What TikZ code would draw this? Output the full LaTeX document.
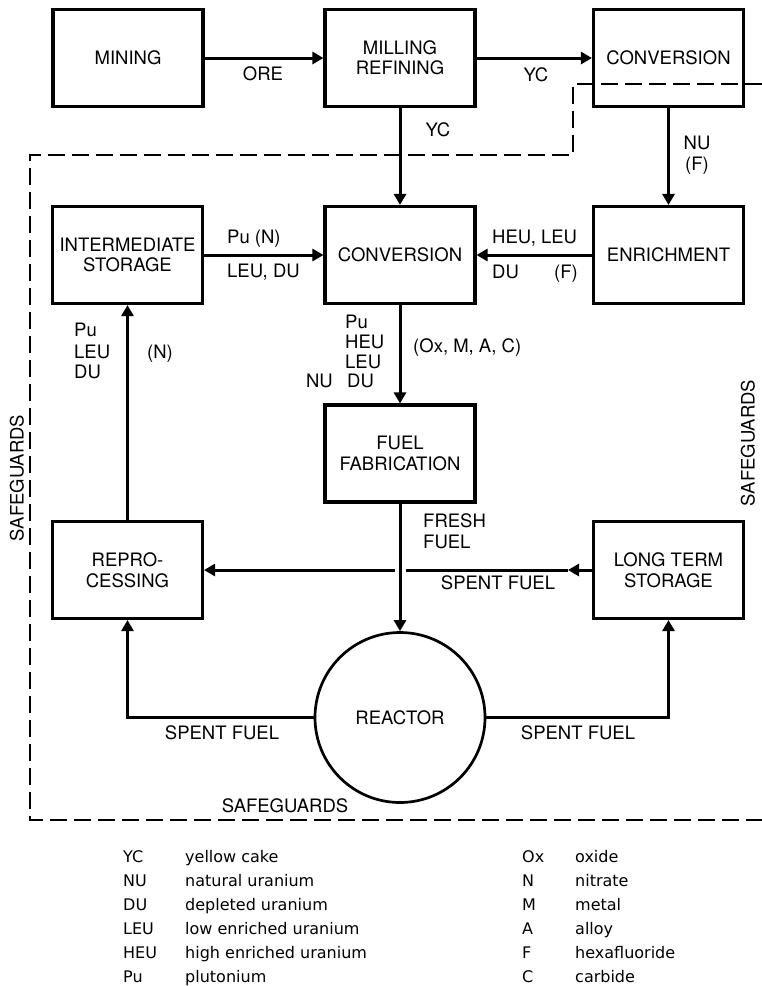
\documentclass[tikz,border=0pt]{standalone}
\usepackage{fontspec}
\setmainfont{TeX Gyre Heros}
\newfontfamily\legfont{DejaVu Sans}
\usetikzlibrary{arrows.meta}
\begin{document}
\begin{tikzpicture}[x=1pt,y=-1pt,
  box/.style={draw,line width=3.1pt,minimum width=150pt,minimum height=97pt,align=center,inner sep=0pt,font=\fontsize{18.5}{20.5}\selectfont},
  lbl/.style={inner sep=0pt,font=\fontsize{18.5}{20.5}\selectfont},
  lblf/.style={lbl,text height=13.5pt,text depth=0pt},
  flow/.style={line width=3pt,-{Triangle[length=11pt,width=12pt]}},
  plain/.style={line width=3pt},
  guard/.style={line width=2.8pt,dash pattern=on 17pt off 7pt},
  leg/.style={inner sep=0pt,anchor=west,text height=11.5pt,text depth=0pt,font=\legfont\fontsize{16}{19}\selectfont}]
\useasboundingbox (0,0) rectangle (762,986);

% boxes
\node[box] (mining) at (128,58) {MINING};
\node[box] (milling) at (400,58) {MILLING\\REFINING};
\node[box] (conv1) at (668.5,58) {CONVERSION};
\node[box] (istor) at (127.5,255) {INTERMEDIATE\\STORAGE};
\node[box] (conv2) at (400,255) {CONVERSION};
\node[box] (enrich) at (668.5,255) {ENRICHMENT};
\node[box] (fab) at (400,453.5) {FUEL\\FABRICATION};
\node[box] (repro) at (127.5,570) {REPRO-\\CESSING};
\node[box] (lts) at (668.5,570) {LONG TERM\\STORAGE};
\node[draw,circle,line width=2.7pt,minimum size=170pt,inner sep=0pt,font=\fontsize{18.5}{20.5}\selectfont] (reactor) at (400,717.5) {REACTOR};

% safeguards boundary
\draw[guard] (762,84) -- (573,84) -- (573,155) -- (30,155) -- (30,820) -- (762,820);

% connectors
\draw[flow] (mining) -- (milling);
\draw[flow] (milling) -- (conv1);
\draw[flow] (milling) -- (conv2);
\draw[flow] (conv1) -- (enrich);
\draw[flow] (istor) -- (conv2);
\draw[flow] (enrich) -- (conv2);
\draw[flow] (conv2) -- (fab);
\draw[flow] (fab) -- (reactor);
\draw[flow] (repro) -- (istor);
\draw[flow] (reactor.west) -| (repro.south);
\draw[flow] (reactor.east) -| (lts.south);
\coordinate (sftip) at (568,570);
\coordinate (gapr) at (406,570);
\coordinate (gapl) at (395,570);
\draw[flow] (lts.west) -- (sftip);
\draw[plain] (sftip) -- (gapr);
\draw[flow] (gapl) -- (repro.east);

% labels
\node[lblf] (ore) at (263,74) {ORE};
\node[lblf] (yc1) at (536,75) {YC};
\node[lblf] (yc2) at (438,130) {YC};
\node[lbl,align=center] (nuf) at (697,155) {NU\\(F)};
\node[lblf,anchor=west] (pun) at (227,237) {Pu (N)};
\node[lblf,anchor=west] (leudu) at (227,271) {LEU, DU};
\node[lblf,anchor=west] (heuleu) at (492,237) {HEU, LEU};
\node[lblf,anchor=west] (du1) at (492,272) {DU};
\node[lblf,anchor=east] (f1) at (578,272) {(F)};
\node[lblf,anchor=west] (cpu) at (345,322) {Pu};
\node[lblf,anchor=west] (cheu) at (345,342) {HEU};
\node[lblf,anchor=west] (cleu) at (345,362) {LEU};
\node[lblf,anchor=west] (cdu) at (347,381) {DU};
\node[lblf,anchor=east] (cnu) at (333,381) {NU};
\node[lblf,anchor=west] (oxm) at (413,346) {(Ox, M, A, C)};
\node[lblf,anchor=west] (rpu) at (74,330) {Pu};
\node[lblf,anchor=west] (rleu) at (74,352) {LEU};
\node[lblf,anchor=west] (rdu) at (74,372) {DU};
\node[lblf,anchor=west] (rn) at (147,352) {(N)};
\node[lblf,anchor=west] (fresh) at (423,521) {FRESH};
\node[lblf,anchor=west] (fuel) at (423,542) {FUEL};
\node[lblf] (sfmid) at (498,583) {SPENT FUEL};
\node[lblf] (sfl) at (222,733) {SPENT FUEL};
\node[lblf] (sfr) at (578,733) {SPENT FUEL};
\node[lblf] (sgb) at (285,806) {SAFEGUARDS};
\node[lbl,rotate=90] (sgl) at (17,478) {SAFEGUARDS};
\node[lbl,rotate=90] (sgr) at (748,443) {SAFEGUARDS};

% legend
\node[leg] (l1a) at (123,857) {YC};  \node[leg] (l1b) at (185,857) {yellow cake};
\node[leg] (l2a) at (123,881) {NU};  \node[leg] (l2b) at (185,881) {natural uranium};
\node[leg] (l3a) at (123,905) {DU};  \node[leg] (l3b) at (185,905) {depleted uranium};
\node[leg] (l4a) at (123,929) {LEU}; \node[leg] (l4b) at (185,929) {low enriched uranium};
\node[leg] (l5a) at (123,953) {HEU}; \node[leg] (l5b) at (185,953) {high enriched uranium};
\node[leg] (l6a) at (123,977) {Pu};  \node[leg] (l6b) at (185,977) {plutonium};
\node[leg] (r1a) at (522,857) {Ox};  \node[leg] (r1b) at (575,857) {oxide};
\node[leg] (r2a) at (522,881) {N};   \node[leg] (r2b) at (575,881) {nitrate};
\node[leg] (r3a) at (522,905) {M};   \node[leg] (r3b) at (575,905) {metal};
\node[leg] (r4a) at (522,929) {A};   \node[leg] (r4b) at (575,929) {alloy};
\node[leg] (r5a) at (522,953) {F};   \node[leg] (r5b) at (575,953) {hexafluoride};
\node[leg] (r6a) at (522,977) {C};   \node[leg] (r6b) at (575,977) {carbide};
\end{tikzpicture}
\end{document}
